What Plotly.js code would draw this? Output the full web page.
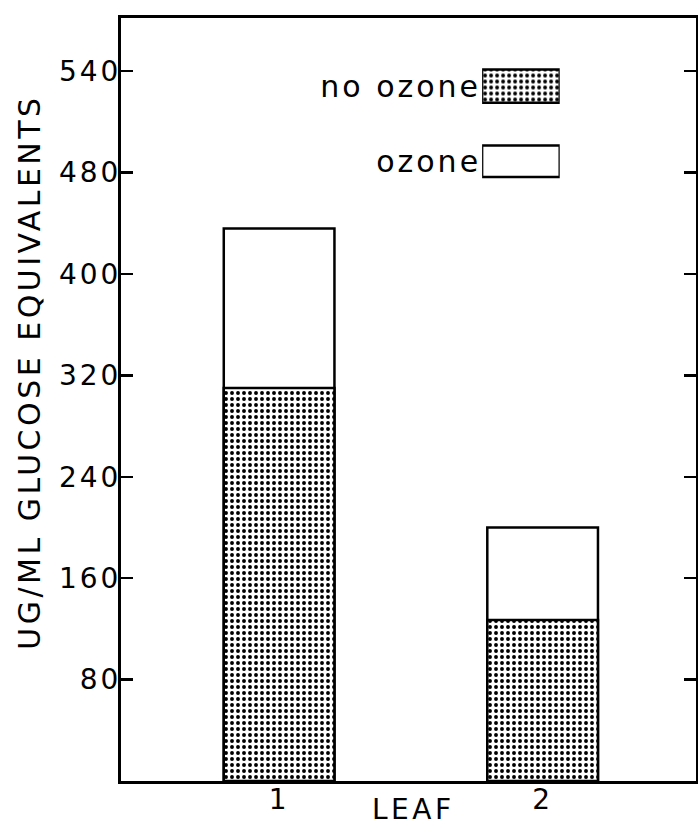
<!DOCTYPE html>
<html>
<head>
<meta charset="utf-8">
<script src="https://cdn.plot.ly/plotly-3.0.1.min.js"></script>
<style>
  html, body { margin: 0; padding: 0; background: #fff; }
  #chart { width: 698px; height: 828px; }
  #chart svg text { letter-spacing: 3px; }
  #chart svg text.annotation-text { letter-spacing: 3.5px; }
</style>
</head>
<body>
<div id="chart"></div>
<script>
// ---- data ----
const leaves = ['1', '2'];
const noOzone = [310, 127];
const ozone = [436, 200];
const yTickVals = [80, 160, 240, 320, 400, 480, 560];
const yTickText = ['80', '160', '240', '320', '400', '480', '540'];
const legendLabels = ['no ozone', 'ozone'];
const legendFill = [1, 1];

const FONT = 'DejaVu Sans, Verdana, sans-serif';
const dots = { shape: '.', fgcolor: '#000', bgcolor: '#fff', size: 6, solidity: 0.33, fillmode: 'replace' };

const traces = [
  {
    type: 'bar', name: 'ozone', x: leaves, y: ozone, width: 0.42,
    marker: { color: '#fff', line: { color: '#000', width: 2.5 } },
    hoverinfo: 'skip', showlegend: false
  },
  {
    type: 'bar', name: 'no ozone', x: leaves, y: noOzone, width: 0.42,
    marker: { color: '#fff', pattern: dots, line: { color: '#000', width: 2.5 } },
    hoverinfo: 'skip', showlegend: false
  },
  // legend swatches drawn on a small inset axis
  {
    type: 'bar', orientation: 'h', x: [legendFill[0]], y: [legendLabels[0]], width: 0.44,
    xaxis: 'x2', yaxis: 'y2',
    marker: { color: '#fff', pattern: dots, line: { color: '#000', width: 2.5 } },
    hoverinfo: 'skip', showlegend: false
  },
  {
    type: 'bar', orientation: 'h', x: [legendFill[1]], y: [legendLabels[1]], width: 0.42,
    xaxis: 'x2', yaxis: 'y2',
    marker: { color: '#fff', line: { color: '#000', width: 2.5 } },
    hoverinfo: 'skip', showlegend: false
  }
];

const layout = {
  width: 698, height: 828,
  margin: { l: 121, r: 2, t: 18, b: 47 },
  paper_bgcolor: '#fff', plot_bgcolor: '#fff',
  barmode: 'overlay',
  showlegend: false,
  font: { family: FONT, color: '#000', size: 28 },
  xaxis: {
    type: 'category', range: [-0.6, 1.582], fixedrange: true,
    showline: true, linecolor: '#000', linewidth: 3, mirror: true,
    ticks: '', showgrid: false, zeroline: false, ticklabelstandoff: -9,
    tickfont: { family: FONT, size: 28, color: '#000' }
  },
  yaxis: {
    range: [0, 602], fixedrange: true,
    showline: true, linecolor: '#000', linewidth: 3, mirror: 'ticks',
    ticks: 'inside', ticklen: 12, tickwidth: 2.5, tickcolor: '#000',
    tickvals: yTickVals, ticktext: yTickText, ticklabelstandoff: -9,
    showgrid: false, zeroline: false,
    tickfont: { family: FONT, size: 28, color: '#000' }
  },
  xaxis2: {
    domain: [0.628, 0.763], anchor: 'y2', range: [0, 1], fixedrange: true,
    visible: false
  },
  yaxis2: {
    domain: [0.763, 0.960], anchor: 'x2', type: 'category',
    categoryorder: 'array', categoryarray: [legendLabels[1], legendLabels[0]],
    fixedrange: true, showline: false, showgrid: false, zeroline: false,
    ticks: '', ticklabelstandoff: 0,
    tickfont: { family: FONT, size: 30, color: '#000' }
  },
  annotations: [
    {
      text: 'UG/ML GLUCOSE EQUIVALENTS', textangle: -90,
      xref: 'paper', yref: 'paper', x: -0.16, y: 0.536,
      xanchor: 'center', yanchor: 'middle', showarrow: false,
      font: { family: FONT, size: 30, color: '#000' }
    },
    {
      text: 'LEAF',
      xref: 'paper', yref: 'paper', x: 0.508, y: -0.037,
      xanchor: 'center', yanchor: 'middle', showarrow: false,
      font: { family: FONT, size: 28, color: '#000' }
    }
  ]
};

Plotly.newPlot('chart', traces, layout, { displayModeBar: false, staticPlot: true });
</script>
</body>
</html>
